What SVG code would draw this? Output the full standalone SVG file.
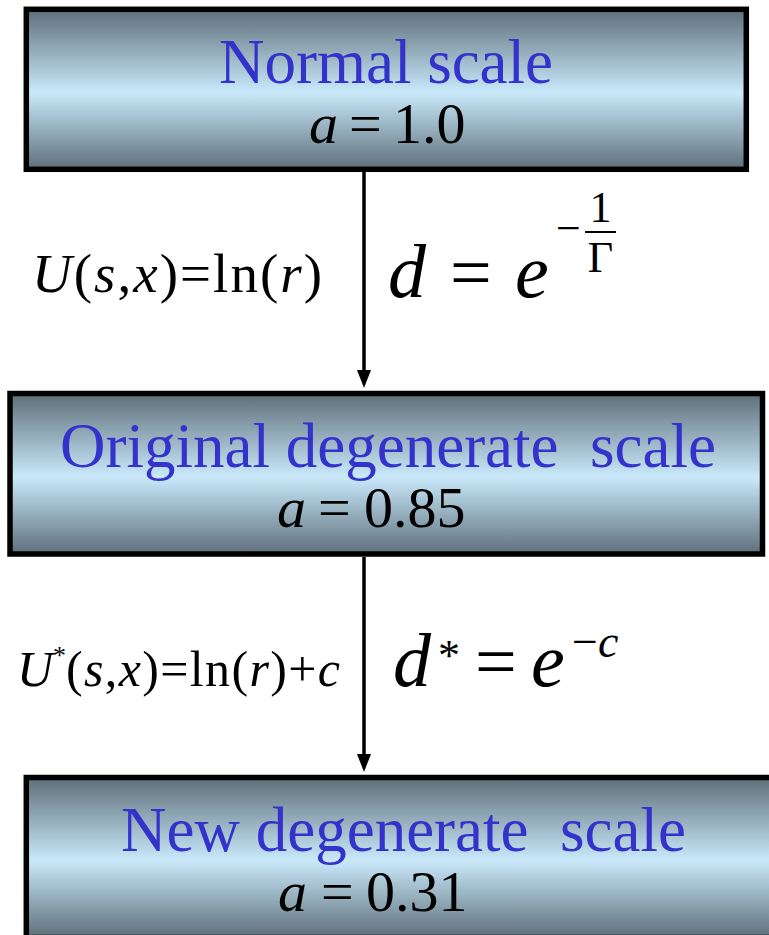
<svg xmlns="http://www.w3.org/2000/svg" width="769" height="935" viewBox="0 0 769 935">
<defs>
  <linearGradient id="boxfill" x1="0" y1="0" x2="0" y2="1">
    <stop offset="0" stop-color="#5e6f79"/>
    <stop offset="0.52" stop-color="#c9e9fb"/>
    <stop offset="1" stop-color="#5e6f79"/>
  </linearGradient>
  <marker id="arrow" viewBox="0 0 18 14" refX="10" refY="7" markerWidth="18" markerHeight="14" markerUnits="userSpaceOnUse" orient="auto">
    <path d="M0,0 L18,7 L0,14 z" fill="#000"/>
  </marker>
  <style>
    .box { fill: url(#boxfill); stroke: #000; stroke-width: 5.5; }
    .title { font-family: "Liberation Serif", "Times New Roman", serif; font-size: 63px; fill: #3333cc; text-anchor: middle; white-space: pre; }
    .math { font-family: "Liberation Serif", "Times New Roman", serif; fill: #000; }
    .it { font-style: italic; }
    .conn { stroke: #000; stroke-width: 3.5; fill: none; }
  </style>
</defs>

<g id="connectors">
  <line class="conn" x1="364" y1="172" x2="364" y2="380" marker-end="url(#arrow)"/>
  <line class="conn" x1="364" y1="557" x2="364" y2="764" marker-end="url(#arrow)"/>
</g>

<g id="node-normal">
  <rect class="box" x="26.3" y="9.3" width="720" height="160"/>
  <text class="title" x="386" y="83">Normal scale</text>
  <text class="math" font-size="58" y="143"><tspan class="it" x="309">a</tspan><tspan x="349">=</tspan><tspan x="393">1.0</tspan></text>
</g>

<g id="node-original">
  <rect class="box" x="10" y="393.5" width="752.5" height="160.5"/>
  <text class="title" x="388" y="467" xml:space="preserve">Original degenerate  scale</text>
  <text class="math" font-size="58" y="527"><tspan class="it" x="277">a</tspan><tspan x="318">=</tspan><tspan x="364">0.85</tspan></text>
</g>

<g id="node-new">
  <rect class="box" x="26.3" y="777.5" width="755" height="160"/>
  <text class="title" x="403.5" y="851" xml:space="preserve">New degenerate  scale</text>
  <text class="math" font-size="58" y="911"><tspan class="it" x="278">a</tspan><tspan x="321">=</tspan><tspan x="366">0.31</tspan></text>
</g>

<g id="label-1-left">
  <text class="math" font-size="55" x="32" y="292" textLength="290" lengthAdjust="spacing"><tspan class="it">U</tspan>(<tspan class="it">s</tspan>,<tspan class="it">x</tspan>)=ln(<tspan class="it">r</tspan>)</text>
</g>

<g id="label-1-right">
  <text class="math it" font-size="76" x="388" y="297">d</text>
  <text class="math" font-size="74" x="450" y="297">=</text>
  <text class="math it" font-size="76" x="515" y="297">e</text>
  <text class="math" font-size="44" x="556" y="243">−</text>
  <line x1="585" y1="232" x2="616" y2="232" stroke="#000" stroke-width="2"/>
  <text class="math" font-size="44" x="600.5" y="222" text-anchor="middle">1</text>
  <text class="math" font-size="44" x="600.5" y="272" text-anchor="middle">Γ</text>
</g>

<g id="label-2-left">
  <text class="math it" font-size="50" x="17" y="686">U</text>
  <text class="math" font-size="26" x="53" y="664">*</text>
  <text class="math" font-size="50" x="66" y="686" textLength="274" lengthAdjust="spacing">(<tspan class="it">s</tspan>,<tspan class="it">x</tspan>)=ln(<tspan class="it">r</tspan>)+<tspan class="it">c</tspan></text>
</g>

<g id="label-2-right">
  <text class="math it" font-size="76" x="393" y="686">d</text>
  <text class="math" font-size="44" x="438" y="670">*</text>
  <text class="math" font-size="74" x="475" y="686">=</text>
  <text class="math it" font-size="76" x="531" y="686">e</text>
  <text class="math" font-size="46" x="572" y="657">−<tspan class="it">c</tspan></text>
</g>
</svg>
